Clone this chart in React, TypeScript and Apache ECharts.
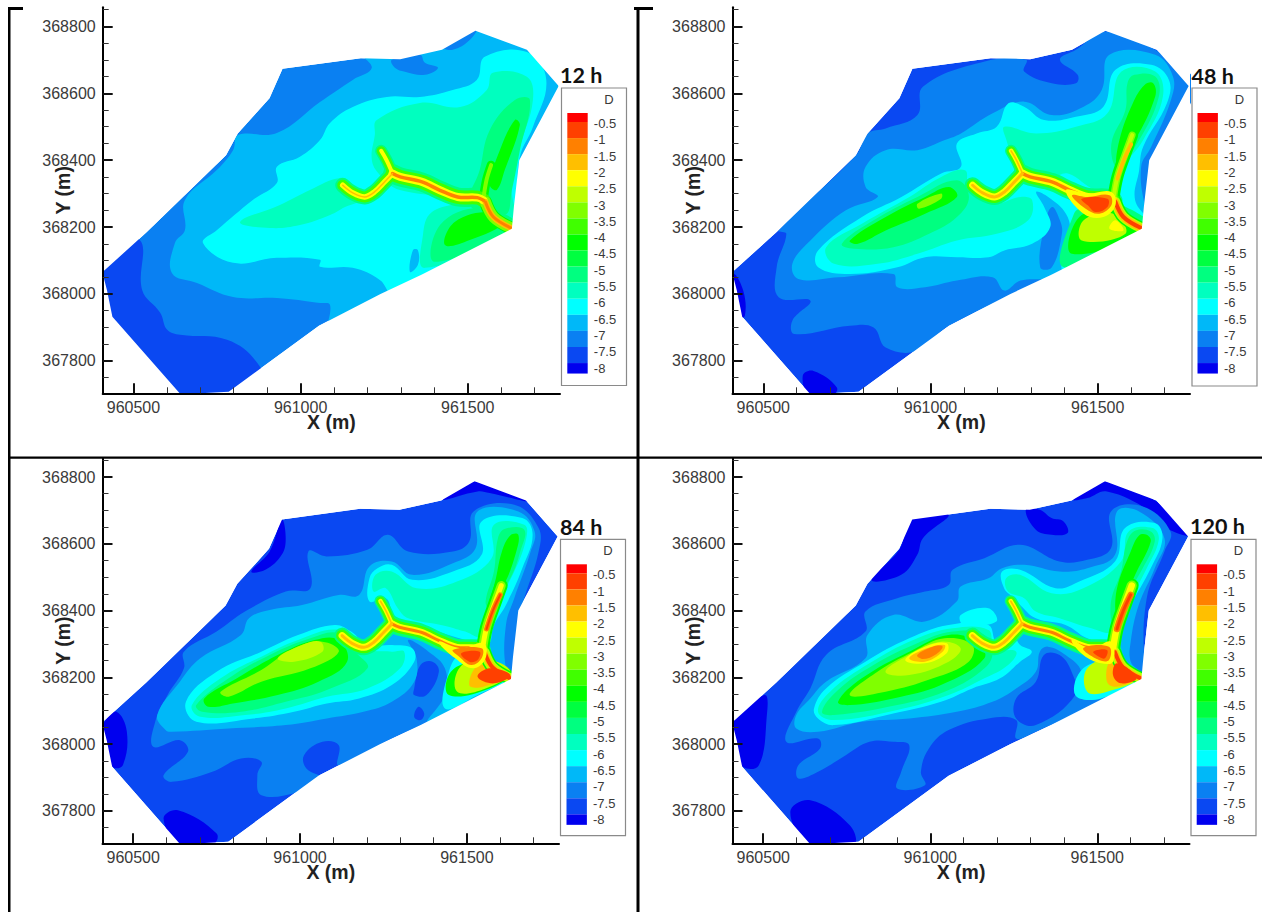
import React, { useEffect, useRef } from "react";
import * as echarts from "echarts";

// Contour bands, from the legend (top to bottom).
const bandColors = ["#ff0000","#ff4000","#ff8000","#ffbf00","#ffff00","#bfff00","#80ff00","#40ff00","#00ff00","#00ff40","#00ff80","#00ffbf","#00ffff","#00b8f8","#0a80f2","#0a48f2","#0000ee"];
const B0=0,B05=1,B1=2,B15=3,B2=4,B25=5,B3=6,B35=7,B4=8,B45=9,B5=10,B55=11,B6=12,B65=13,B7=14,B75=15,B8=16;
const legendLabels = ["-0.5","-1","-1.5","-2","-2.5","-3","-3.5","-4","-4.5","-5","-5.5","-6","-6.5","-7","-7.5","-8"];
const xTicks = [960500, 961000, 961500];
const xMinor = [960600,960700,960800,960900,961100,961200,961300,961400,961600,961700];
const yTicks = [367800, 368000, 368200, 368400, 368600, 368800];
const yMinor = [367750,367850,367900,367950,368050,368100,368150,368250,368300,368350,368450,368500,368550,368650,368700,368750,368850];
const xRange = [960408, 961776];
const yRange = [367703, 368857];
// Region vertices are metres east of 960000 and north of 367000.
const X0 = 960000, Y0 = 367000;
type P = number[];
type Region = [number, P[]];
type Stroke = [P[], number, number];

const domain: P[] = [[407,1065],[421,1010],[437,932],[641,700],[785,708],[1055,905],[1239,1000],[1363,1058],[1632,1195],[1638,1260],[1654,1400],[1772,1622],[1677,1730],[1523,1787],[1423,1730],[1298,1702],[1180,1705],[946,1673],[907,1585],[812,1480],[777,1415],[540,1185]];

// Channel centre lines, common to all four times.
const stub: P[] = [[1241,1428],[1257,1400],[1275,1360]];
const east: P[] = [[1275,1360],[1298,1350],[1363,1335],[1417,1310],[1470,1290],[1529,1288],[1547,1280]];
const west: P[] = [[1275,1360],[1251,1335],[1221,1305],[1192,1290],[1156,1302],[1126,1325]];
const neShort: P[] = [[1547,1285],[1556,1340],[1570,1385]];
const neLong: P[] = [[1547,1285],[1559,1350],[1583,1420],[1603,1475]];
const se: P[] = [[1553,1275],[1577,1230],[1630,1197]];
const neCore: P[] = [[1559,1345],[1578,1400],[1600,1447]];

const regions12h: Region[] = [
  [B75,[[515,1165],[526,1012],[580,944],[601,893],[640,878],[780,863],[870,794],[900,700],[600,650],[350,900],[350,1150]]],
  [B65,[[798,1430],[813,1475],[929,1481],[1058,1574],[1156,1640],[1213,1676],[1177,1730],[1527,1819],[1690,1755],[1771,1622],[1671,1401],[1632,1176],[1641,1100],[1088,877],[1088,967],[1058,973],[929,988],[798,991],[690,1033],[615,1063],[624,1152],[654,1191],[654,1281],[750,1371]]],
  [B7,[[1273,1700],[1357,1715],[1372,1691],[1411,1676],[1372,1655],[1312,1664],[1282,1676]]],
  [B7,[[1423,1740],[1527,1795],[1506,1759],[1455,1730]]],
  [B6,[[708,1152],[750,1191],[857,1281],[929,1332],[929,1380],[998,1410],[1058,1460],[1088,1511],[1156,1559],[1258,1589],[1357,1589],[1455,1610],[1527,1640],[1551,1709],[1677,1723],[1735,1640],[1695,1499],[1656,1410],[1647,1281],[1641,1161],[1282,997],[1237,1042],[1156,1078],[1058,1081],[1058,1102],[929,1108],[798,1093]]],
  [B65,[[1336,1131],[1351,1131],[1351,1087],[1327,1066]]],
  [B55,[[819,1215],[938,1266],[1028,1311],[1118,1347],[1153,1326],[1192,1287],[1133,1260],[1088,1236],[998,1206],[908,1197]]],
  [B55,[[1228,1520],[1357,1571],[1477,1559],[1557,1610],[1575,1661],[1677,1649],[1695,1580],[1656,1439],[1632,1320],[1632,1197],[1372,1078],[1366,1176],[1393,1245],[1506,1281],[1297,1311],[1237,1356],[1213,1401],[1222,1475]]],
  [B5,[[1566,1490],[1641,1580],[1686,1580],[1656,1430],[1632,1311],[1611,1236],[1506,1266],[1536,1371]]],
  [B5,[[1402,1096],[1417,1206],[1536,1257],[1641,1206]]],
  [B4,[[1432,1146],[1461,1215],[1566,1245],[1611,1215],[1506,1161]]],
  [B4,[[1566,1326],[1596,1430],[1641,1520],[1656,1505],[1611,1371],[1587,1311]]],
];
const strokes12h: Stroke[] = [
  [east,B5,19],[west,B5,15],[stub,B5,12],[neShort,B4,9],[se,B4,13],
  [east,B35,14],[west,B35,11],[stub,B35,9],[neShort,B3,4],[se,B3,11],
  [east,B2,8],[west,B2,5.5],[stub,B2,4],[se,B15,6],
  [east,B1,3.5],[west,B15,1.5],[se,B1,3],
];
const hot12h: Region[] = [];

const regions48h: Region[] = [
  [B7,[[546,1190],[777,1415],[812,1480],[866,1495],[961,1535],[978,1620],[1162,1695],[1286,1700],[1280,1665],[1363,1630],[1435,1630],[1440,1655],[1387,1700],[1435,1730],[1523,1785],[1672,1730],[1790,1620],[1660,1380],[1648,1180],[1363,1050],[1055,905],[961,830],[866,840],[830,900],[759,905],[593,880],[587,920],[641,980],[546,990],[540,1080],[569,1180]]],
  [B8,[[410,1060],[440,1010],[445,935],[425,930],[395,1000]]],
  [B8,[[618,755],[650,770],[720,720],[700,690],[640,690]]],
  [B65,[[806,1380],[866,1430],[961,1430],[1043,1460],[1091,1480],[1186,1540],[1280,1575],[1363,1535],[1458,1560],[1512,1610],[1535,1715],[1672,1715],[1725,1650],[1719,1580],[1660,1440],[1630,1380],[1642,1260],[1672,1180],[1363,1050],[1269,1040],[1221,1010],[1186,1050],[1079,1040],[984,1020],[901,1020],[889,1060],[724,1050],[605,1045],[587,1090],[641,1160],[747,1250],[842,1290],[806,1320]]],
  [B7,[[1328,1080],[1340,1200],[1363,1260],[1387,1220],[1393,1180],[1363,1080]]],
  [B7,[[1203,1420],[1233,1350],[1215,1360]]],
  [B6,[[664,1130],[795,1230],[913,1290],[1032,1360],[1091,1380],[1079,1450],[1138,1480],[1198,1500],[1233,1570],[1280,1560],[1340,1520],[1435,1530],[1517,1560],[1553,1670],[1660,1685],[1713,1640],[1707,1570],[1636,1440],[1624,1370],[1612,1280],[1660,1190],[1399,1070],[1393,1100],[1417,1180],[1405,1240],[1352,1290],[1316,1305],[1340,1260],[1358,1200],[1304,1150],[1221,1130],[1174,1110],[1079,1110],[984,1110],[901,1080],[759,1060],[664,1080]]],
  [B55,[[688,1140],[795,1210],[937,1290],[1032,1350],[1103,1370],[1115,1320],[1186,1270],[1269,1290],[1304,1280],[1292,1220],[1198,1180],[1079,1160],[961,1120],[842,1090],[712,1090]]],
  [B55,[[1221,1500],[1316,1480],[1435,1500],[1529,1540],[1571,1665],[1672,1665],[1695,1590],[1636,1460],[1577,1380],[1553,1310],[1494,1310],[1411,1360],[1363,1350],[1304,1370],[1245,1420],[1227,1460]]],
  [B5,[[735,1150],[830,1220],[961,1290],[1079,1340],[1115,1290],[1079,1230],[996,1180],[889,1140],[771,1135]]],
  [B5,[[1589,1630],[1610,1655],[1672,1650],[1683,1590],[1624,1460],[1559,1380],[1541,1450],[1583,1550]]],
  [B5,[[1399,1080],[1429,1240],[1470,1260],[1560,1270],[1660,1190]]],
  [B4,[[759,1160],[866,1230],[984,1290],[1055,1320],[1079,1290],[984,1240],[866,1190],[783,1150]]],
  [B4,[[1605,1570],[1640,1625],[1666,1630],[1672,1590],[1612,1460],[1559,1390],[1565,1460]]],
  [B4,[[1423,1120],[1445,1230],[1553,1250],[1636,1190]]],
  [B3,[[961,1270],[1032,1300],[1032,1285],[966,1255]]],
  [B25,[[1452,1160],[1458,1220],[1547,1240],[1583,1180]]],
  [B2,[[1535,1195],[1553,1220],[1577,1190]]],
];
const strokes48h: Stroke[] = [
  [east,B5,18],[west,B5,16],[stub,B5,12],[neLong,B4,12],[se,B4,13],
  [east,B35,13],[west,B35,12],[stub,B35,9],[neLong,B3,7],[se,B25,10],
  [east,B2,8],[west,B2,7],[stub,B2,4.5],[neLong,B25,4],[se,B15,7],
  [east,B1,3.5],[west,B15,3],[stub,B15,1.5],[neCore,B15,4],[se,B05,4],
];
const hot48h: Region[] = [
  [B2,[[1405,1310],[1470,1300],[1541,1305],[1553,1265],[1517,1230],[1458,1240]]],
  [B1,[[1423,1295],[1470,1290],[1535,1295],[1541,1265],[1505,1240],[1464,1255]]],
  [B05,[[1452,1285],[1529,1285],[1529,1260],[1494,1245],[1470,1265]]],
];

const regions84h: Region[] = [
  [B8,[[414,1067],[450,1097],[481,1037],[469,937],[438,932],[395,1017]]],
  [B8,[[945,1672],[909,1577],[854,1517],[896,1522],[945,1567],[957,1617]]],
  [B8,[[591,777],[634,802],[750,732],[737,697],[640,697]]],
  [B8,[[1428,1732],[1526,1787],[1684,1727],[1568,1752],[1532,1757]]],
  [B7,[[652,1227],[652,1277],[750,1337],[835,1397],[957,1457],[1031,1467],[1025,1577],[1080,1562],[1202,1582],[1263,1627],[1324,1577],[1458,1577],[1507,1607],[1520,1697],[1642,1717],[1715,1647],[1715,1577],[1672,1437],[1660,1387],[1648,1217],[1385,1067],[1275,1017],[1116,937],[1116,997],[1067,1007],[1012,967],[1019,927],[1067,897],[994,857],[884,847],[872,907],[884,947],[823,957],[737,917],[615,887],[591,907],[664,977],[640,1012],[560,992],[566,1067],[603,1147]]],
  [B75,[[1342,1167],[1361,1237],[1397,1247],[1416,1217],[1379,1147],[1342,1147]]],
  [B75,[[1342,1082],[1355,1112],[1372,1092],[1361,1072]]],
  [B65,[[597,1042],[572,1087],[640,1187],[701,1257],[823,1327],[847,1377],[909,1402],[1006,1417],[1116,1447],[1177,1447],[1208,1532],[1275,1547],[1336,1507],[1458,1542],[1526,1587],[1532,1697],[1654,1697],[1703,1637],[1691,1577],[1642,1437],[1617,1357],[1617,1227],[1642,1207],[1385,1067],[1434,1147],[1434,1227],[1385,1277],[1324,1312],[1349,1257],[1342,1187],[1275,1127],[1190,1097],[1080,1077],[957,1057],[786,1047],[615,1037]]],
  [B6,[[658,1127],[750,1217],[884,1277],[994,1327],[1104,1357],[1153,1337],[1202,1297],[1275,1297],[1336,1287],[1342,1247],[1275,1177],[1177,1137],[1080,1122],[982,1097],[860,1077],[689,1067]]],
  [B6,[[1208,1497],[1232,1527],[1275,1537],[1336,1492],[1458,1517],[1544,1567],[1544,1667],[1666,1677],[1697,1627],[1666,1527],[1617,1417],[1581,1357],[1562,1297],[1495,1312],[1410,1337],[1324,1357],[1281,1387],[1257,1437],[1208,1427]]],
  [B6,[[1434,1107],[1446,1217],[1483,1267],[1593,1227],[1642,1207],[1532,1147]]],
  [B55,[[676,1117],[762,1197],[884,1262],[994,1312],[1116,1342],[1190,1287],[1275,1277],[1312,1277],[1300,1227],[1202,1167],[1080,1142],[957,1107],[835,1087],[701,1082]]],
  [B55,[[1226,1507],[1275,1517],[1349,1467],[1470,1487],[1574,1557],[1581,1657],[1672,1657],[1678,1617],[1642,1517],[1593,1427],[1556,1367],[1538,1322],[1495,1337],[1422,1357],[1324,1377],[1293,1407],[1257,1467],[1220,1457]]],
  [B5,[[689,1117],[786,1197],[909,1267],[1031,1317],[1116,1332],[1165,1277],[1202,1227],[1080,1162],[957,1127],[823,1097],[707,1097]]],
  [B5,[[1593,1617],[1615,1645],[1672,1642],[1660,1577],[1630,1497],[1568,1407],[1556,1427],[1581,1517]]],
  [B4,[[713,1137],[811,1197],[933,1267],[1043,1312],[1116,1312],[1141,1247],[1055,1187],[933,1147],[799,1122],[725,1112]]],
  [B4,[[1605,1577],[1630,1625],[1654,1627],[1648,1577],[1611,1477],[1568,1417],[1587,1497]]],
  [B4,[[1446,1147],[1452,1217],[1532,1247],[1635,1217],[1568,1167]]],
  [B3,[[762,1157],[884,1222],[982,1287],[1067,1307],[1116,1277],[1031,1227],[884,1187],[786,1142]]],
  [B25,[[933,1257],[1006,1297],[1061,1307],[1067,1277],[982,1247]]],
  [B25,[[1471,1157],[1477,1227],[1544,1257],[1630,1217],[1556,1167]]],
  [B15,[[1507,1177],[1538,1237],[1630,1212],[1550,1172]]],
];
const strokes84h: Stroke[] = [
  [east,B5,17],[west,B5,16],[stub,B5,12],[neLong,B4,13],[se,B4,13],
  [east,B35,12],[west,B35,12],[stub,B35,9],[neLong,B3,9],[se,B25,10],
  [east,B2,7],[west,B2,7],[stub,B2,4.5],[neLong,B2,5],[se,B15,6],
  [east,B1,3],[west,B15,3],[stub,B15,1.5],[neCore,B1,5],[neCore,B05,2],[se,B05,4],
];
const hot84h: Region[] = [
  [B2,[[1416,1307],[1483,1287],[1550,1302],[1556,1257],[1519,1227],[1465,1257]]],
  [B1,[[1458,1282],[1544,1287],[1544,1257],[1513,1237],[1477,1262]]],
  [B05,[[1483,1272],[1538,1277],[1532,1252],[1507,1247]]],
  [B05,[[1532,1202],[1568,1227],[1630,1207],[1581,1182]]],
];

const regions120h: Region[] = [
  [B8,[[409,1067],[504,1147],[510,1077],[487,937],[439,932],[400,1000]]],
  [B8,[[943,1672],[907,1582],[824,1492],[913,1507],[961,1567],[978,1617],[1055,1687]]],
  [B8,[[581,797],[641,832],[759,757],[771,697],[641,697]]],
  [B8,[[1286,1702],[1328,1702],[1363,1677],[1399,1667],[1411,1632],[1363,1627],[1316,1642]]],
  [B8,[[1428,1732],[1523,1787],[1677,1727],[1772,1627],[1707,1647],[1660,1697],[1529,1757],[1470,1737]]],
  [B7,[[569,1007],[599,1097],[641,1167],[688,1267],[806,1337],[806,1397],[901,1437],[984,1457],[1055,1477],[1067,1522],[1162,1557],[1269,1597],[1387,1547],[1470,1552],[1541,1587],[1541,1697],[1636,1712],[1719,1637],[1701,1577],[1648,1437],[1642,1227],[1660,1197],[1316,1037],[1257,1017],[1257,1072],[1174,1077],[1055,1042],[996,987],[972,917],[984,877],[901,867],[913,917],[937,997],[889,1007],[818,1007],[747,967],[664,917],[605,897],[605,937],[670,987],[664,1017]]],
  [B75,[[1340,1267],[1387,1267],[1423,1217],[1434,1147],[1316,1057],[1257,1077],[1257,1137],[1316,1187]]],
  [B65,[[599,1047],[599,1087],[641,1137],[688,1187],[806,1257],[812,1327],[889,1387],[984,1367],[1079,1427],[1091,1472],[1174,1497],[1215,1527],[1281,1537],[1387,1517],[1470,1527],[1553,1567],[1559,1697],[1625,1697],[1701,1617],[1672,1527],[1624,1417],[1600,1307],[1600,1247],[1630,1207],[1511,1137],[1434,1147],[1452,1217],[1405,1267],[1352,1292],[1328,1277],[1316,1217],[1257,1167],[1186,1127],[1079,1097],[937,1077],[795,1067],[664,1037]]],
  [B6,[[652,1107],[688,1167],[806,1247],[937,1317],[1055,1357],[1174,1357],[1198,1307],[1245,1327],[1269,1297],[1304,1277],[1269,1247],[1209,1197],[1126,1167],[1032,1127],[889,1092],[712,1057],[664,1077]]],
  [B6,[[1215,1517],[1269,1522],[1375,1467],[1446,1487],[1553,1547],[1583,1647],[1672,1662],[1695,1617],[1660,1527],[1600,1417],[1565,1347],[1547,1297],[1470,1317],[1405,1357],[1316,1377],[1269,1417],[1251,1437],[1221,1467]]],
  [B6,[[1091,1387],[1174,1407],[1198,1367],[1100,1357]]],
  [B6,[[1434,1147],[1458,1227],[1553,1247],[1630,1202],[1511,1137]]],
  [B55,[[664,1097],[700,1157],[818,1242],[949,1312],[1067,1347],[1174,1342],[1192,1287],[1257,1277],[1233,1237],[1162,1197],[1055,1147],[901,1102],[712,1072]]],
  [B55,[[1227,1497],[1269,1507],[1363,1452],[1458,1467],[1571,1547],[1594,1637],[1666,1647],[1684,1612],[1648,1527],[1589,1417],[1547,1337],[1482,1347],[1387,1377],[1316,1397],[1281,1437],[1233,1457]]],
  [B5,[[676,1097],[724,1162],[830,1237],[961,1302],[1067,1337],[1162,1327],[1186,1267],[1150,1217],[1043,1157],[901,1117],[712,1087]]],
  [B5,[[1589,1607],[1615,1640],[1660,1637],[1672,1607],[1636,1527],[1571,1417],[1547,1357],[1541,1427],[1571,1517]]],
  [B4,[[724,1127],[795,1197],[937,1277],[1055,1327],[1138,1307],[1162,1257],[1032,1177],[889,1137],[759,1117]]],
  [B4,[[1600,1577],[1625,1625],[1648,1627],[1660,1607],[1618,1517],[1559,1397],[1559,1467]]],
  [B3,[[759,1147],[842,1217],[949,1277],[1043,1317],[1126,1297],[1115,1247],[1008,1197],[866,1157]]],
  [B25,[[866,1217],[937,1267],[1032,1307],[1091,1287],[1055,1247],[937,1207]]],
  [B2,[[925,1252],[984,1292],[1049,1302],[1049,1272],[984,1242]]],
  [B15,[[937,1257],[990,1287],[1043,1297],[1037,1277],[984,1247]]],
  [B1,[[961,1267],[1008,1292],[1037,1292],[1014,1267],[978,1255]]],
  [B25,[[1470,1157],[1470,1227],[1553,1257],[1624,1202],[1529,1157]]],
  [B15,[[1529,1187],[1541,1247],[1618,1202],[1559,1172]]],
];
const strokes120h: Stroke[] = [
  [east,B5,17],[west,B5,16],[stub,B5,12],[neLong,B4,14],[se,B4,13],
  [east,B35,12],[west,B35,12],[stub,B35,9],[neLong,B3,10],[se,B25,10],
  [east,B2,7],[west,B2,7],[stub,B2,4.5],[neLong,B2,6.5],[se,B15,6],
  [east,B1,3],[west,B15,3],[stub,B15,1.5],[neCore,B1,6.5],[neCore,B05,3],[se,B05,4],
];
const hot120h: Region[] = [
  [B2,[[1423,1312],[1482,1287],[1541,1307],[1547,1247],[1512,1242],[1458,1267]]],
  [B1,[[1458,1287],[1535,1292],[1535,1252],[1505,1252]]],
  [B05,[[1488,1277],[1529,1282],[1523,1257],[1505,1262]]],
  [B05,[[1547,1207],[1559,1242],[1618,1199],[1571,1182]]],
];

const panels = [
  { title:"12 h", base:B7, regions:regions12h, strokes:strokes12h, hot:hot12h, left:102.7, top:7.3, w:457.3, h:386, box:[561.5,88,65,297.5], bar:567.3, titleX:560, titleY:75 },
  { title:"48 h", base:B75, regions:regions48h, strokes:strokes48h, hot:hot48h, left:732.5, top:7.3, w:457.5, h:386, box:[1192,88,65,298], bar:1197.5, titleX:1191.5, titleY:76 },
  { title:"84 h", base:B75, regions:regions84h, strokes:strokes84h, hot:hot84h, left:102.5, top:458, w:456.5, h:385.3, box:[560.5,539.3,65,296.4], bar:566.5, titleX:560, titleY:527 },
  { title:"120 h", base:B75, regions:regions120h, strokes:strokes120h, hot:hot120h, left:732.5, top:458, w:457, h:385.3, box:[1191,539.3,65,296.4], bar:1196.7, titleX:1190, titleY:526 },
];

const FONT = "'Liberation Sans', Arial, sans-serif";
const INK = "#3a3a3a";

function buildOption() {
  const grid:any[] = [], xAxis:any[] = [], yAxis:any[] = [], series:any[] = [], graphic:any[] = [];
  const frame = [[8,7,2.5,905],[8,7,15,3],[636.5,7,3,905],[634,7,19,3],[8,456.5,1254,2.2]];
  frame.forEach(([x,y,width,height]) => graphic.push({ type:"rect", shape:{x,y,width,height}, style:{fill:"#000"}, z:20 }));

  panels.forEach((p, i) => {
    grid.push({ left:p.left, top:p.top, width:p.w, height:p.h, containLabel:false });
    const xi = xAxis.length, yi = yAxis.length;
    xAxis.push({
      type:"value", gridIndex:i, min:xRange[0], max:xRange[1], position:"bottom", z:5,
      name:"X (m)", nameLocation:"middle", nameGap:19, nameMoveOverlap:false,
      nameTextStyle:{ fontFamily:FONT, fontWeight:"bold", fontSize:19.5, color:"#222" },
      splitLine:{show:false},
      axisLine:{ show:true, onZero:false, lineStyle:{color:"#000",width:2} },
      axisTick:{ show:true, inside:true, length:10, customValues:xTicks, lineStyle:{color:"#111",width:2} },
      axisLabel:{ show:true, customValues:xTicks, margin:6, fontFamily:FONT, fontSize:16, color:INK, formatter:(v:number)=>String(v) },
    });
    xAxis.push({
      type:"value", gridIndex:i, min:xRange[0], max:xRange[1], position:"bottom", z:5,
      splitLine:{show:false}, axisLine:{show:false}, axisLabel:{show:false},
      axisTick:{ show:true, inside:true, length:6, customValues:xMinor, lineStyle:{color:"#333",width:1} },
    });
    yAxis.push({
      type:"value", gridIndex:i, min:yRange[0], max:yRange[1], position:"left", z:5,
      name:"Y (m)", nameLocation:"middle", nameGap:30, nameMoveOverlap:false,
      nameTextStyle:{ fontFamily:FONT, fontWeight:"bold", fontSize:19.5, color:"#222", padding:[0,0,0,20] },
      splitLine:{show:false},
      axisLine:{ show:true, onZero:false, lineStyle:{color:"#000",width:2} },
      axisTick:{ show:true, inside:true, length:10, customValues:yTicks, lineStyle:{color:"#111",width:2} },
      axisLabel:{ show:true, customValues:yTicks, margin:7, fontFamily:FONT, fontSize:16, color:INK, formatter:(v:number)=>String(v) },
    });
    yAxis.push({
      type:"value", gridIndex:i, min:yRange[0], max:yRange[1], position:"left", z:5,
      splitLine:{show:false}, axisLine:{show:false}, axisLabel:{show:false},
      axisTick:{ show:true, inside:true, length:6, customValues:yMinor, lineStyle:{color:"#333",width:1} },
    });

    const outside: P[] = [[xRange[0]-X0,yRange[0]-Y0],[xRange[0]-X0,yRange[1]-Y0],[xRange[1]-X0,yRange[1]-Y0],[xRange[1]-X0,yRange[0]-Y0],[xRange[0]-X0,yRange[0]-Y0]];
    const mask: P[] = [...outside, ...domain, domain[0]];
    const marks:any[] = [
      { pts:domain, fill:bandColors[p.base] },
      ...p.regions.map(([c,pts]) => ({ pts, fill:bandColors[c], smooth:0.4 })),
      ...p.strokes.map(([pts,c,w]) => ({ pts, line:bandColors[c], w })),
      ...p.hot.map(([c,pts]) => ({ pts, fill:bandColors[c], smooth:0.4 })),
      { pts:mask, fill:"#ffffff" },
    ];
    series.push({
      type:"custom", coordinateSystem:"cartesian2d", xAxisIndex:xi, yAxisIndex:yi, silent:true, clip:true, z:2,
      data: marks.map((_,k)=>[k]),
      renderItem:(params:any, api:any) => {
        const m = marks[params.dataIndex];
        const points = m.pts.map((q:P)=>api.coord([q[0]+X0,q[1]+Y0]));
        if (m.line) return { type:"polyline", shape:{points, smooth:0.35}, style:{ fill:"none", stroke:m.line, lineWidth:m.w, lineCap:"round", lineJoin:"round" } };
        return { type:"polygon", shape:{points, smooth:m.smooth||0}, style:{ fill:m.fill } };
      },
    });

    // Panel title and legend
    graphic.push({ type:"text", x:p.titleX, y:p.titleY, z:20, style:{ text:p.title, font:"bold 21.5px Lato, 'Open Sans', sans-serif", fill:"#111", textAlign:"left", textVerticalAlign:"middle" } });
    const [bx,by,bw,bh] = p.box;
    graphic.push({ type:"rect", z:19, shape:{x:bx,y:by,width:bw,height:bh}, style:{fill:"#fff",stroke:"#8a8a8a",lineWidth:1.2} });
    graphic.push({ type:"text", z:20, x:bx+47.5, y:by+11.5, style:{ text:"D", font:`13px ${FONT}`, fill:INK, textAlign:"center", textVerticalAlign:"middle" } });
    const barTop = by+25;
    const edges = [0, ...legendLabels.map((_,k)=>9+16.07*k), 9+16.07*15+10.5];
    bandColors.forEach((fill,k)=>{
      graphic.push({ type:"rect", z:20, shape:{x:p.bar,y:barTop+edges[k],width:20.4,height:edges[k+1]-edges[k]}, style:{fill} });
    });
    legendLabels.forEach((text,k)=>{
      graphic.push({ type:"text", z:20, x:p.bar+26.5, y:barTop+10.5+16.3*k, style:{ text, font:`13px ${FONT}`, fill:INK, textAlign:"left", textVerticalAlign:"middle" } });
    });
  });
  return { animation:false, backgroundColor:"#ffffff", grid, xAxis, yAxis, series, graphic };
}

export default function App() {
  const ref = useRef<HTMLDivElement>(null);
  useEffect(() => {
    document.body.style.margin = "0";
    const chart = echarts.init(ref.current!, undefined, { renderer:"svg" });
    chart.setOption(buildOption() as any);
    return () => chart.dispose();
  }, []);
  return <div ref={ref} style={{ position:"absolute", left:0, top:0, width:1262, height:912 }} />;
}
